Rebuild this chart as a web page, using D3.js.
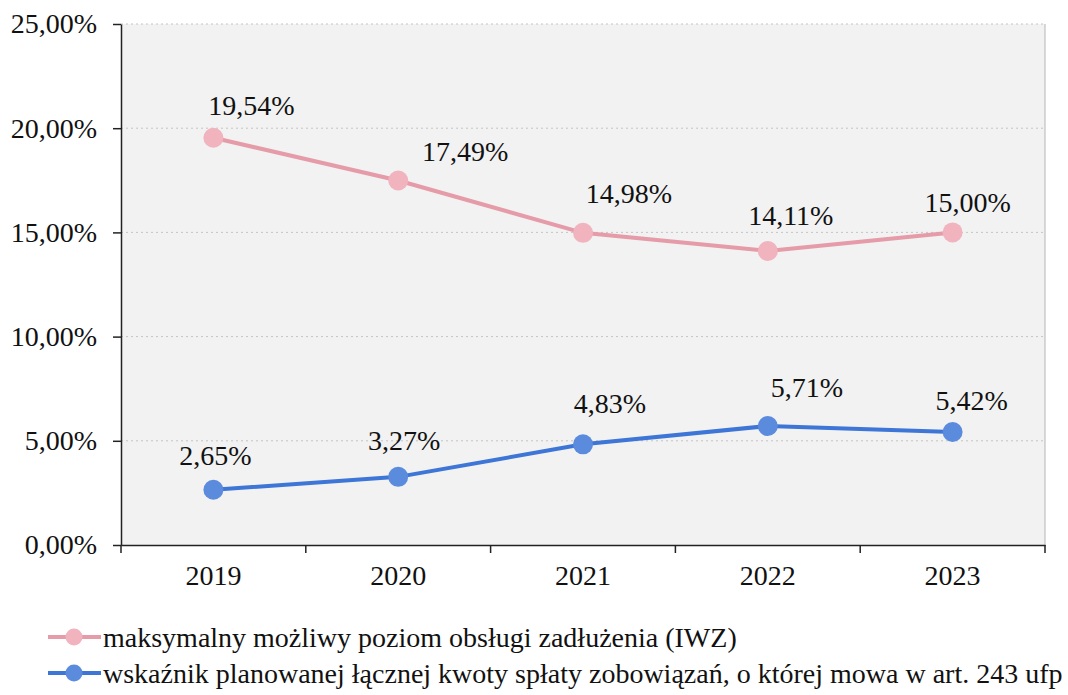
<!DOCTYPE html>
<html>
<head>
<meta charset="utf-8">
<script src="https://cdn.jsdelivr.net/npm/d3@7"></script>
<style>
  body { margin: 0; background: #fff; }
  svg, svg text { font-family: "Liberation Serif", "Times New Roman", serif; }
</style>
</head>
<body>
<svg id="chart"></svg>
<script>
const years = ["2019", "2020", "2021", "2022", "2023"];
const iwz = [19.54, 17.49, 14.98, 14.11, 15.00];
const splaty = [2.65, 3.27, 4.83, 5.71, 5.42];
const yTicks = [0, 5, 10, 15, 20, 25];
const seriesNames = [
  "maksymalny możliwy poziom obsługi zadłużenia (IWZ)",
  "wskaźnik planowanej łącznej kwoty spłaty zobowiązań, o której mowa w art. 243 ufp"
];

const width = 1068, height = 695;
const margin = { top: 24, right: 23, bottom: 150, left: 121 };
const fontSize = 28;

const svg = d3.select("#chart").attr("width", width).attr("height", height);

const x = d3.scaleBand()
  .domain(years)
  .range([margin.left, width - margin.right]);

const y = d3.scaleLinear()
  .domain([0, 25])
  .range([height - margin.bottom, margin.top]);

const fmt = v => d3.format(".2f")(v).replace(".", ",") + "%";

// plot background
svg.append("rect")
  .attr("x", margin.left).attr("y", margin.top)
  .attr("width", width - margin.left - margin.right)
  .attr("height", y(0) - margin.top)
  .attr("fill", "#f2f2f2");

// gridlines
svg.append("g")
  .selectAll("line")
  .data(yTicks.filter(d => d > 0))
  .join("line")
  .attr("x1", margin.left).attr("x2", width - margin.right)
  .attr("y1", d => y(d)).attr("y2", d => y(d))
  .attr("stroke", "#c4c4c4")
  .attr("stroke-dasharray", "2,3");

// right border
svg.append("line")
  .attr("x1", width - margin.right).attr("x2", width - margin.right)
  .attr("y1", margin.top).attr("y2", y(0))
  .attr("stroke", "#b5b5b5");

// y axis
const yAxis = svg.append("g")
  .attr("transform", `translate(${margin.left},0)`)
  .call(d3.axisLeft(y).tickValues(yTicks).tickFormat(fmt)
    .tickSize(8).tickPadding(16).tickSizeOuter(0));
yAxis.attr("font-family", null);
yAxis.selectAll("text").attr("font-size", fontSize).attr("fill", "#111");
yAxis.selectAll("line, path").attr("stroke", "#222").attr("stroke-width", 1.5);

// x axis, ticks on band boundaries
const xAxis = svg.append("g")
  .attr("transform", `translate(0,${y(0)})`)
  .call(d3.axisBottom(x).tickSize(0).tickPadding(20).tickSizeOuter(0));
xAxis.attr("font-family", null);
xAxis.selectAll("text").attr("font-size", fontSize).attr("fill", "#111");
xAxis.selectAll("path").attr("stroke", "#222").attr("stroke-width", 1.5);
xAxis.selectAll(".bnd")
  .data(years.map(d => x(d)).concat([x(years[years.length - 1]) + x.bandwidth()]))
  .join("line")
  .attr("x1", d => d).attr("x2", d => d)
  .attr("y1", 0).attr("y2", 8)
  .attr("stroke", "#222").attr("stroke-width", 1.5);

const cx = d => x(d) + x.bandwidth() / 2;

const series = [
  { name: seriesNames[0], values: iwz, line: "#e59ba8", dot: "#f1b3be",
    ldx: [38, 67, 46, 23, 15], ldy: [-23, -20, -30, -26, -20] },
  { name: seriesNames[1], values: splaty, line: "#3d76d6", dot: "#5a8bdd",
    ldx: [2, 6, 27, 39, 19], ldy: [-25, -27, -31, -29, -22] }
];

const line = d3.line().x((d, i) => cx(years[i])).y(d => y(d));

series.forEach(s => {
  svg.append("path")
    .datum(s.values)
    .attr("fill", "none")
    .attr("stroke", s.line)
    .attr("stroke-width", 4)
    .attr("d", line);

  svg.append("g")
    .selectAll("circle")
    .data(s.values)
    .join("circle")
    .attr("cx", (d, i) => cx(years[i]))
    .attr("cy", d => y(d))
    .attr("r", 10)
    .attr("fill", s.dot);

  svg.append("g")
    .selectAll("text")
    .data(s.values)
    .join("text")
    .attr("x", (d, i) => cx(years[i]) + s.ldx[i])
    .attr("y", (d, i) => y(d) + s.ldy[i])
    .attr("text-anchor", "middle")
    .attr("font-size", fontSize)
    .attr("fill", "#111")
    .text(fmt);
});

// legend
const legend = svg.append("g")
  .selectAll("g")
  .data(series)
  .join("g")
  .attr("transform", (d, i) => `translate(48,${637 + i * 36})`);
legend.append("line")
  .attr("x1", 0).attr("x2", 53).attr("y1", 0).attr("y2", 0)
  .attr("stroke", d => d.line).attr("stroke-width", 4);
legend.append("circle")
  .attr("cx", 26).attr("cy", 0).attr("r", 8.5)
  .attr("fill", d => d.dot);
legend.append("text")
  .attr("x", 55).attr("y", 10)
  .attr("font-size", fontSize)
  .attr("fill", "#111")
  .text(d => d.name);
</script>
</body>
</html>
